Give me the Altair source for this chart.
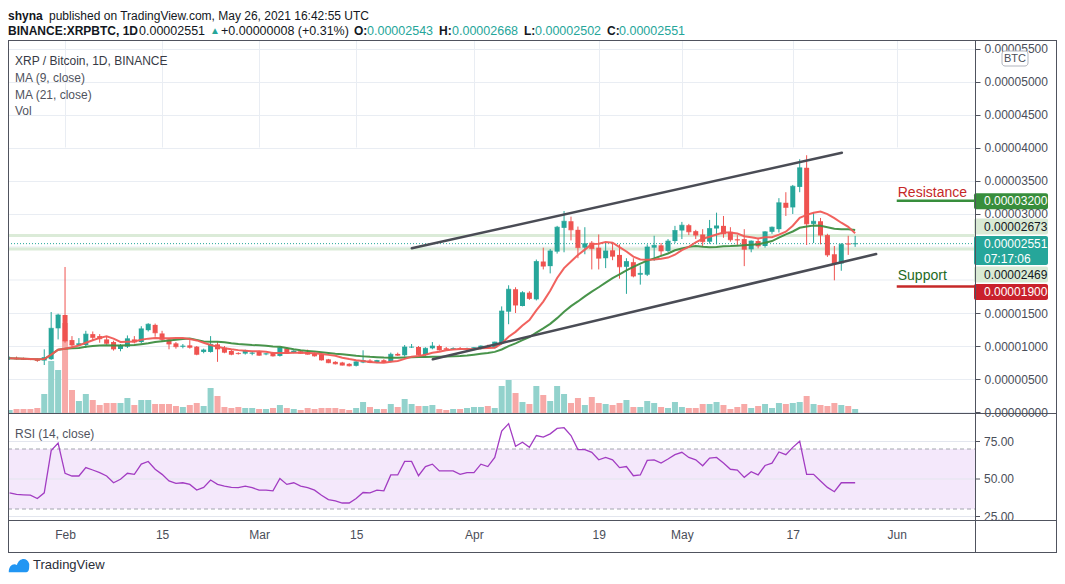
import altair as alt
import pandas as pd

FONT = "Liberation Sans"
GREEN = "#26a69a"
RED = "#ef5350"
VOL_UP = "#92d2cc"
VOL_DN = "#f7a9a7"
TEXT = "#131722"
AXIS_TXT = "#4a4e59"
FRAME = "#50535e"
GRID = "#e9edf3"

# ---------------- data (prices in satoshi = 1e-8 BTC) ----------------
dates = [d.strftime("%Y-%m-%d") for d in pd.date_range("2021-01-24", "2021-05-26", freq="D")]

opens = [810, 820, 805, 800, 800, 780, 800, 1268, 1470, 1090,
         1015, 1015, 1180, 1150, 1100, 1060, 955, 990, 1100, 1060,
         1240, 1320, 1190, 1100, 1040, 990, 1010, 990, 910, 910,
         1025, 975, 924, 895, 885, 885, 910, 875, 895, 850,
         965, 898, 920, 910, 885, 874, 798, 760, 750, 730,
         700, 750, 780, 750, 785, 765, 880, 860, 980, 985,
         865, 965, 1000, 965, 955, 962, 955, 960, 955, 1000,
         975, 1035, 1520, 1860, 1606, 1808, 1707, 2280, 2210, 2430,
         2790, 2890, 2760, 2490, 2565, 2490, 2330, 2450, 2380, 2200,
         2270, 2080, 2080, 2490, 2525, 2440, 2590, 2750, 2830, 2740,
         2690, 2580, 2780, 2820, 2730, 2615, 2620, 2465, 2590, 2515,
         2730, 2770, 3170, 3100, 3410, 3700, 2850, 2890, 2680, 2390,
         2250, 2552, 2543]
highs = [840, 840, 825, 815, 810, 950, 1515, 1490, 2197, 1150,
         1120, 1230, 1220, 1180, 1150, 1080, 1030, 1160, 1150, 1300,
         1345, 1340, 1230, 1120, 1060, 1030, 1090, 1000, 960, 1150,
         1060, 1000, 940, 905, 945, 925, 930, 895, 910, 985,
         980, 935, 935, 945, 900, 880, 805, 770, 760, 740,
         770, 935, 800, 790, 800, 900, 900, 1015, 1030, 1000,
         980, 1060, 1020, 985, 980, 985, 975, 985, 1010, 1020,
         1065, 1600, 1920, 1890, 1830, 1830, 2310, 2490, 2470, 2820,
         3045, 2960, 2810, 2800, 2590, 2690, 2560, 2560, 2540, 2330,
         2330, 2220, 2540, 2670, 2560, 2620, 2820, 2880, 2850, 2760,
         2770, 2910, 3020, 2970, 2800, 2680, 2770, 2600, 2640, 2740,
         2810, 3240, 3330, 3440, 3830, 3890, 3020, 2940, 2700, 2515,
         2560, 2670, 2668]
lows = [790, 795, 790, 785, 760, 712, 790, 1100, 1050, 960,
        1000, 970, 1080, 1050, 1020, 930, 920, 970, 1040, 1040,
        1220, 1140, 1060, 950, 960, 965, 960, 860, 890, 900,
        760, 890, 860, 870, 870, 860, 850, 860, 840, 840,
        880, 890, 880, 870, 840, 780, 740, 720, 705, 690,
        690, 740, 740, 740, 750, 750, 850, 840, 970, 860,
        850, 950, 930, 935, 940, 945, 935, 945, 945, 960,
        965, 1020, 1330, 1500, 1600, 1700, 1690, 2160, 2100, 2400,
        2420, 2600, 2330, 2390, 2160, 2160, 2180, 2300, 2020, 1790,
        2040, 1930, 2060, 2290, 2370, 2420, 2560, 2620, 2680, 2620,
        2510, 2550, 2540, 2640, 2580, 2530, 2210, 2420, 2480, 2490,
        2700, 2720, 2970, 3000, 3330, 2530, 2560, 2540, 2350, 1995,
        2140, 2380, 2502]
closes = [815, 805, 800, 795, 780, 825, 1268, 1470, 1076, 1015,
          1035, 1180, 1130, 1110, 1040, 955, 1010, 1110, 1060, 1260,
          1330, 1200, 1100, 1030, 990, 1000, 980, 874, 940, 1025,
          955, 905, 874, 885, 930, 895, 860, 882, 850, 975,
          890, 924, 890, 875, 850, 788, 747, 730, 710, 700,
          760, 780, 750, 780, 755, 874, 860, 985, 985, 865,
          965, 1000, 940, 950, 962, 955, 960, 975, 1000, 970,
          1060, 1530, 1860, 1620, 1808, 1720, 2280, 2210, 2440, 2800,
          2890, 2760, 2490, 2550, 2475, 2330, 2440, 2360, 2200, 2280,
          2060, 2100, 2500, 2525, 2440, 2590, 2750, 2830, 2730, 2680,
          2580, 2780, 2820, 2700, 2610, 2605, 2465, 2590, 2515, 2730,
          2800, 3170, 3100, 3420, 3700, 2850, 2890, 2680, 2380, 2250,
          2540, 2543, 2551]
# volume in relative units (no axis is shown)
volumes = [3, 4, 4, 4, 5, 19, 52, 43, 90, 23,
           12, 19, 13, 8, 10, 10, 10, 15, 8, 13,
           13, 9, 9, 9, 7, 6, 8, 10, 7, 25,
           17, 6, 5, 6, 5, 5, 4, 4, 5, 8,
           5, 4, 3, 5, 4, 5, 5, 5, 4, 3,
           5, 11, 6, 4, 4, 9, 6, 14, 9, 7,
           7, 8, 4, 3, 4, 4, 5, 6, 6, 7,
           5, 27, 33, 20, 11, 9, 27, 18, 12, 27,
           19, 10, 15, 8, 16, 10, 9, 8, 10, 13,
           6, 6, 12, 10, 6, 5, 11, 6, 5, 5,
           9, 9, 11, 8, 4, 6, 9, 5, 7, 9,
           5, 10, 9, 10, 11, 17, 9, 8, 7, 10,
           8, 7, 4]
rsi_values = [40.8, 39.7, 39.4, 39.2, 37, 40.8, 68.9, 74, 53.8, 52,
              52, 57.6, 56, 54.3, 52, 47.5, 49.8, 53.8, 53.1, 59.9,
              61.7, 56.5, 53.1, 48.7, 47.1, 47.5, 46.4, 42.6, 44.4, 49.3,
              46.4, 45.3, 44.4, 44.2, 45.3, 44.2, 42.6, 42.6, 42.1, 50.4,
              46.4, 47.5, 45.3, 44.2, 42.6, 39.2, 36.3, 35.4, 34, 34,
              37, 41, 40.8, 42.6, 42.1, 52.7, 52.7, 61.7, 61.7, 52.2,
              58.3, 59.9, 55.4, 55.4, 55.4, 53.1, 54.3, 54.3, 59.9, 58.3,
              64.4, 81.9, 86.9, 71.8, 74.5, 71.1, 79, 77.9, 80.1, 83.7,
              84.2, 79, 69.6, 69.6, 67.8, 62.8, 64.4, 62.8, 57.6, 58.3,
              52.2, 52.7, 62.4, 62.8, 60.6, 63.3, 66.2, 67.8, 64.4, 62.8,
              58.8, 63.9, 64.4, 60.6, 56.5, 56, 51.1, 54.9, 52.7, 59,
              60.6, 68, 66.2, 71.1, 75.2, 53.1, 53.1, 48.7, 44.4, 41.5,
              47.5, 47.5, 47.5]

trend_upper_dates = ["2021-03-23T00:45:00Z", "2021-05-24T02:00:00Z"]
trend_upper_prices = [2480, 3929]
trend_lower_dates = ["2021-03-26T01:30:00Z", "2021-05-29T00:45:00Z"]
trend_lower_prices = [798, 2394]

resistance_level = 3200
support_level = 1900
level_start = "2021-06-01"
level_end = "2021-06-12T07:00:00Z"
last_price = 2551
range_high = 2673
range_low = 2469
price_ticks = [0, 500, 1000, 1500, 3000, 3500, 4000, 4500, 5000, 5500]  # labels not hidden by tags
hidden_grid = [2000, 2500]                                             # grid rows behind the tags
rsi_ticks = [25, 50, 75]

df = pd.DataFrame({"date": dates, "open": opens, "high": highs, "low": lows,
                   "close": closes, "volume": volumes, "rsi": rsi_values})
trend_df = pd.DataFrame({
    "d": trend_upper_dates + trend_lower_dates,
    "p": trend_upper_prices + trend_lower_prices,
    "line": ["upper", "upper", "lower", "lower"],
})
one = pd.DataFrame({"k": [0]})

# ---------------- scales ----------------
W, H, PANE = 967, 480, 373
RIGHT = 82          # width of the price-axis column
x_scale = alt.Scale(type="utc", nice=False, padding=0, domain=[
    alt.DateTime(year=2021, month=1, date=23, hours=18, minutes=28, utc=True),
    alt.DateTime(year=2021, month=6, date=12, hours=7, utc=True)])
tick_dates = [(2, 1), (2, 15), (3, 1), (3, 15), (4, 1), (4, 19), (5, 1), (5, 17), (6, 1)]
x_axis = alt.Axis(
    values=[alt.DateTime(year=2021, month=m, date=d, utc=True) for m, d in tick_dates],
    labelExpr="utcdate(datum.value) == 1 ? utcFormat(datum.value, '%b') : utcFormat(datum.value, '%d')",
    title=None, grid=True, gridColor=GRID, domain=False, ticks=False, labelPadding=9,
    labelFontSize=12, labelColor=AXIS_TXT, labelFont=FONT, labelOverlap=False, labelFlush=False)


def X(field):
    return alt.X(field, scale=x_scale, axis=x_axis)


PRICE = alt.Scale(domain=[-15, 5636], range=[PANE, 0], nice=False, zero=False, padding=0)
VOL = alt.Scale(domain=[0, PANE], range=[PANE, 0], nice=False, zero=False, padding=0)
RSI = alt.Scale(domain=[22.67, 94], range=[H, PANE], nice=False, zero=False, padding=0)

price_axis = alt.Axis(orient="right", values=price_ticks, title=None,
                      labelExpr="format(datum.value / 1e8, '.8f')",
                      grid=True, gridColor=GRID, domain=False, tickColor=FRAME, tickSize=5,
                      labelColor=AXIS_TXT, labelFontSize=12, labelFont=FONT, labelPadding=4,
                      labelOverlap=False, labelFlush=False, labelBound=False)

up = "datum.close >= datum.open"
base = alt.Chart(df)
layers = []

# hidden grid rows (their labels sit under the price tags)
for v in hidden_grid:
    layers.append(alt.Chart(one).mark_rule(color=GRID, strokeWidth=1).encode(
        x=alt.value(0), x2=alt.value(W), y=alt.Y(datum=v, scale=PRICE, axis=None)))
    layers.append(alt.Chart(one).mark_rule(color=FRAME, strokeWidth=1).encode(
        x=alt.value(W), x2=alt.value(W + 5), y=alt.Y(datum=v, scale=PRICE, axis=None)))

# ---------------- RSI pane ----------------
layers.append(alt.Chart(one).mark_rect(color="#f4e8fb").encode(
    x=alt.value(0), x2=alt.value(W),
    y=alt.Y(datum=70, scale=RSI, axis=None), y2=alt.Y2(datum=30)))
for v in rsi_ticks:
    layers.append(alt.Chart(one).mark_rule(color="#e3e6ee", strokeWidth=1).encode(
        x=alt.value(0), x2=alt.value(W), y=alt.Y(datum=v, scale=RSI, axis=None)))
for v in [70, 30]:
    layers.append(alt.Chart(one).mark_rule(color="#a3a6af", strokeWidth=1, strokeDash=[4, 3]).encode(
        x=alt.value(0), x2=alt.value(W), y=alt.Y(datum=v, scale=RSI, axis=None)))
layers.append(base.mark_line(color="#a23cc2", strokeWidth=1.3).encode(
    x=X("date:T"), y=alt.Y("rsi:Q", scale=RSI, axis=None)))

# ---------------- price lines ----------------
for v in [range_high, range_low]:
    layers.append(alt.Chart(one).mark_rule(color="#dbebd8", strokeWidth=3).encode(
        y=alt.Y(datum=v, scale=PRICE, axis=None)))
layers.append(alt.Chart(one).mark_rule(color=GREEN, strokeWidth=1, strokeDash=[1, 2]).encode(
    y=alt.Y(datum=last_price, scale=PRICE, axis=None)))

# ---------------- volume ----------------
layers.append(base.mark_bar(size=6, clip=True).encode(
    x=X("date:T"), y=alt.Y("volume:Q", scale=VOL, axis=None),
    color=alt.condition(up, alt.value(VOL_UP), alt.value(VOL_DN))))

# ---------------- candles ----------------
layers.append(base.mark_rule(strokeWidth=1).encode(
    x=X("date:T"), y=alt.Y("low:Q", scale=PRICE, axis=price_axis), y2="high:Q",
    color=alt.condition(up, alt.value(GREEN), alt.value(RED))))
layers.append(base.mark_bar(size=5, clip=True).encode(
    x=X("date:T"), y=alt.Y("open:Q", scale=PRICE, axis=None), y2="close:Q",
    color=alt.condition(up, alt.value(GREEN), alt.value(RED))))
layers.append(base.mark_tick(orient="horizontal", size=5, thickness=1, clip=True).encode(
    x=X("date:T"), y=alt.Y("close:Q", scale=PRICE, axis=None),
    color=alt.condition(up, alt.value(GREEN), alt.value(RED))))

# ---------------- moving averages ----------------
ma = base.transform_window(ma9="mean(close)", frame=[-8, 0], sort=[alt.SortField("date")]) \
         .transform_window(ma21="mean(close)", frame=[-20, 0], sort=[alt.SortField("date")])
layers.append(ma.mark_line(color="#3e8e41", strokeWidth=2, opacity=0.95).encode(
    x=X("date:T"), y=alt.Y("ma21:Q", scale=PRICE, axis=None)))
layers.append(ma.mark_line(color="#f05a55", strokeWidth=2, opacity=0.95).encode(
    x=X("date:T"), y=alt.Y("ma9:Q", scale=PRICE, axis=None)))

# ---------------- trend channel ----------------
layers.append(alt.Chart(trend_df).mark_line(color="#4a4c55", strokeWidth=2.5, strokeCap="round").encode(
    x=X("d:T"), y=alt.Y("p:Q", scale=PRICE, axis=None), detail="line:N"))

# ---------------- resistance / support ----------------
lev = pd.DataFrame({"start": [level_start], "end": [level_end]})
for v, lc, tc, name, ddy in [(resistance_level, "#388e3c", "#c62828", "Resistance", -4),
                              (support_level, "#c62828", "#1e6a24", "Support", -7)]:
    layers.append(alt.Chart(lev).mark_rule(color=lc, strokeWidth=2.5).encode(
        x=X("start:T"), x2="end:T", y=alt.Y(datum=v, scale=PRICE, axis=None)))
    layers.append(alt.Chart(lev).mark_text(text=name, align="left", baseline="alphabetic", dx=1, dy=ddy,
                                           fontSize=14, font=FONT, color=tc).encode(
        x=X("start:T"), y=alt.Y(datum=v, scale=PRICE, axis=None)))

# ---------------- price tags on the axis ----------------
tag_prices = [resistance_level, range_high, last_price, range_low, support_level]
tag_style = [  # fill, text colour, top offset, bottom offset, text offset
    ("#388e3c", "white", -7.5, 8.5, 0.5),
    ("#d9ead5", TEXT, -17, -1, -9),
    (GREEN, "white", -7.6, 21.4, 0),
    ("#d9ead5", TEXT, 17.5, 33.5, 25.5),
    ("#c9212b", "white", -2.6, 13.4, 5.4),
]
for p, (fill, tcol, top, bot, tdy) in zip(tag_prices, tag_style):
    tag = alt.Chart(pd.DataFrame({"p": [p]})).transform_calculate(
        label="format(datum.p / 1e8, '.8f')")
    layers.append(tag.mark_rect(color=fill, yOffset=top, y2Offset=bot, cornerRadius=2).encode(
        x=alt.value(W - 1), x2=alt.value(W + 73),
        y=alt.Y("p:Q", scale=PRICE, axis=None), y2="p:Q"))
    layers.append(tag.mark_text(align="left", baseline="middle", dy=tdy, fontSize=12, font=FONT,
                                color=tcol).encode(
        x=alt.value(W + 9), y=alt.Y("p:Q", scale=PRICE, axis=None), text="label:N"))
layers.append(alt.Chart(pd.DataFrame({"p": [last_price]})).mark_text(
    text="07:17:06", align="left", baseline="middle", dy=15, fontSize=12, font=FONT, color="white").encode(
    x=alt.value(W + 9), y=alt.Y("p:Q", scale=PRICE, axis=None)))

# ---------------- RSI axis labels ----------------
for v in rsi_ticks:
    layers.append(alt.Chart(one).mark_rule(color=FRAME).encode(
        x=alt.value(W), x2=alt.value(W + 5), y=alt.Y(datum=v, scale=RSI, axis=None)))
    layers.append(alt.Chart(one).mark_text(text=f"{v:.2f}", align="left", baseline="middle",
                                           fontSize=12, font=FONT, color=AXIS_TXT).encode(
        x=alt.value(W + 9), y=alt.Y(datum=v, scale=RSI, axis=None)))


# ---------------- frame ----------------
def hline(y, x1=0, x2=W + RIGHT):
    return alt.Chart(one).mark_rule(color=FRAME, strokeWidth=1).encode(
        x=alt.value(x1), x2=alt.value(x2), y=alt.value(y))


def vline(x, y1=0, y2=H + 32):
    return alt.Chart(one).mark_rule(color=FRAME, strokeWidth=1).encode(
        x=alt.value(x), y=alt.value(y1), y2=alt.value(y2))


for yy in [0.5, PANE + 0.5, H + 0.5, H + 32.5]:
    layers.append(hline(yy))
for xx in [0.5, W + 0.5, W + RIGHT - 0.5]:
    layers.append(vline(xx))


# ---------------- texts ----------------
def label(text, x, y, size=12, color=TEXT, weight="normal", align="left"):
    return alt.Chart(one).mark_text(text=text, align=align, baseline="middle", fontSize=size,
                                    fontWeight=weight, color=color, font=FONT).encode(
        x=alt.value(x), y=alt.value(y))


hx = -5
layers += [
    label("shyna", 5 + hx, -24.5, weight="bold"),
    label("published on TradingView.com, May 26, 2021 16:42:55 UTC", 46 + hx, -24.5),
    label("BINANCE:XRPBTC, 1D", 5 + hx, -9.5, weight="bold"),
    label("0.00002551", 136 + hx, -9.5, size=12.5),
    label("▲", 207 + hx, -9.5, size=10, color=GREEN),
    label("+0.00000008 (+0.31%)", 218 + hx, -9.5, size=12.5),
    label("O:", 351 + hx, -9.5, weight="bold"),
    label("0.00002543", 364 + hx, -9.5, size=12.5, color=GREEN),
    label("H:", 436 + hx, -9.5, weight="bold"),
    label("0.00002668", 449 + hx, -9.5, size=12.5, color=GREEN),
    label("L:", 521 + hx, -9.5, weight="bold"),
    label("0.00002502", 532 + hx, -9.5, size=12.5, color=GREEN),
    label("C:", 604 + hx, -9.5, weight="bold"),
    label("0.00002551", 616 + hx, -9.5, size=12.5, color=GREEN),
    label("XRP / Bitcoin, 1D, BINANCE", 7, 21, color="#363a45"),
    label("MA (9, close)", 7, 38, color="#50535e"),
    label("MA (21, close)", 7, 55, color="#50535e"),
    label("Vol", 7, 71, color="#50535e"),
    label("RSI (14, close)", 7, 394, color="#50535e"),
    label("TradingView", 25, 525, size=13, color="#2a2e39"),
]
# BTC unit box
layers.append(alt.Chart(one).mark_rect(fill="white", stroke="#b2b5be", strokeWidth=1, cornerRadius=3).encode(
    x=alt.value(W + 27), x2=alt.value(W + 53), y=alt.value(11), y2=alt.value(26)))
layers.append(label("BTC", W + 40, 18.5, size=11, color=AXIS_TXT, align="center"))
# logo glyph
logo_path = "M-1,0.7 C-1,0.1 -0.6,-0.2 -0.2,0 C0,-0.7 0.8,-0.8 1,-0.1 C1,0.3 1,0.7 0.7,0.7 Z"
layers.append(alt.Chart(one).mark_point(shape=logo_path, filled=True, size=420, color="#2196f3", opacity=1).encode(
    x=alt.value(11), y=alt.value(525)))

# svg = 1049 x 566 so that, with the 8px page margin, nothing overflows the 1065x584 window
chart = alt.layer(*layers).resolve_scale(y="independent").properties(
    width=W, height=H,
    autosize=alt.AutoSizeParams(type="none"),
    padding={"left": 0, "top": 32, "right": RIGHT, "bottom": 54}
).configure_view(stroke=None).configure(background="white")

chart.save("out.html", embed_options={"renderer": "svg", "actions": False})
